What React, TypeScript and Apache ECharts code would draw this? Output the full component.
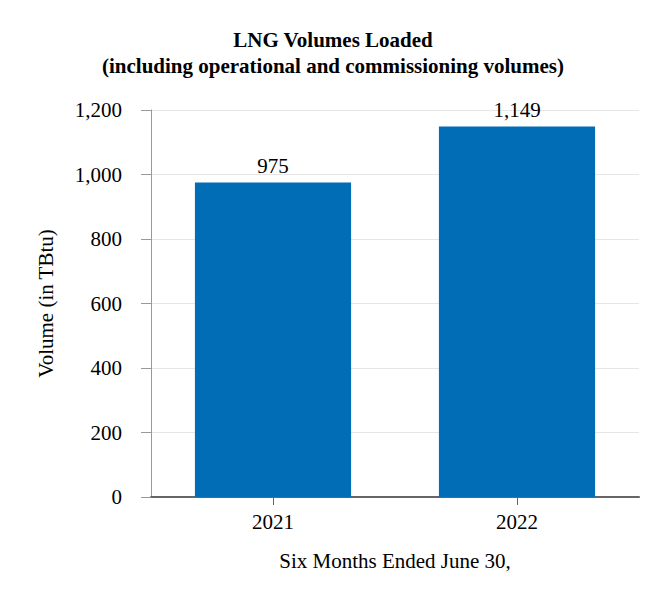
import React, { useEffect, useRef } from 'react';
import * as echarts from 'echarts';

const categories = ['2021', '2022'];
const volumes = [975, 1149];
const titleLines = ['LNG Volumes Loaded', '(including operational and commissioning volumes)'];

const FONT = '"Liberation Serif", "Times New Roman", serif';
const SIZE = 21;
const fmt = (v: number) => v.toLocaleString('en-US');

const App: React.FC = () => {
  const chartRef = useRef<HTMLDivElement>(null);

  useEffect(() => {
    document.body.style.margin = '0';
    if (!chartRef.current) return;
    const chart = echarts.init(chartRef.current, undefined, { renderer: 'svg' });

    const option: echarts.EChartsOption = {
      animation: false,
      textStyle: { fontFamily: FONT },
      title: {
        text: titleLines.join('\n'),
        left: 'center',
        top: 22,
        textStyle: {
          fontFamily: FONT,
          fontWeight: 'bold',
          fontSize: SIZE,
          color: '#000',
          lineHeight: 26
        }
      },
      grid: { left: 151, right: 27, top: 110, bottom: 103 },
      xAxis: {
        type: 'category',
        data: categories,
        name: 'Six Months Ended June 30,',
        nameLocation: 'middle',
        nameGap: 53,
        nameTextStyle: { fontFamily: FONT, fontSize: SIZE, color: '#000' },
        axisLine: { lineStyle: { color: '#666', width: 2 } },
        axisTick: { show: true, alignWithLabel: true, length: 8, lineStyle: { color: '#666' } },
        axisLabel: { fontFamily: FONT, fontSize: SIZE, color: '#000', margin: 14 }
      },
      yAxis: {
        type: 'value',
        min: 0,
        max: 1200,
        interval: 200,
        name: 'Volume (in TBtu)',
        nameLocation: 'middle',
        nameGap: 95,
        nameTextStyle: { fontFamily: FONT, fontSize: SIZE, color: '#000' },
        axisLine: { show: true, lineStyle: { color: '#999', width: 1 } },
        axisTick: { show: true, length: 10, lineStyle: { color: '#999' } },
        axisLabel: { fontFamily: FONT, fontSize: SIZE, color: '#000', margin: 29, formatter: (v: number) => fmt(v) },
        splitLine: { lineStyle: { color: '#e6e6e6', width: 1 } }
      },
      series: [
        {
          type: 'bar',
          data: volumes,
          barWidth: '64%',
          itemStyle: { color: '#006db6' },
          label: {
            show: true,
            position: 'top',
            distance: 6,
            fontFamily: FONT,
            fontSize: SIZE,
            color: '#000',
            formatter: (p: any) => fmt(p.value)
          }
        }
      ]
    };

    chart.setOption(option);
    return () => {
      chart.dispose();
    };
  }, []);

  return <div ref={chartRef} style={{ width: 666, height: 600 }} />;
};

export default App;
